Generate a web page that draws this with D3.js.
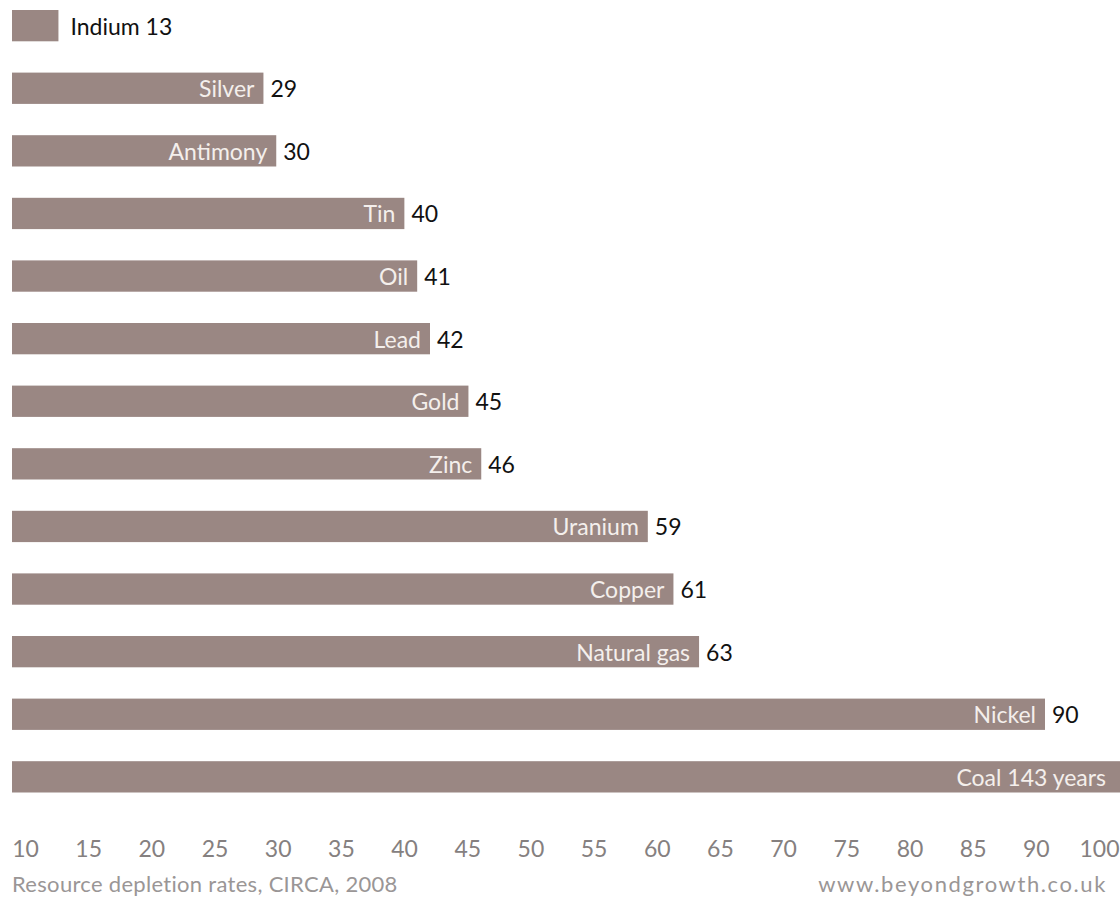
<!DOCTYPE html>
<html>
<head>
<meta charset="utf-8">
<script src="https://cdn.jsdelivr.net/npm/d3@7"></script>
<style>
  html, body { margin: 0; padding: 0; background: #ffffff; }
  svg { display: block; }
  text { font-family: Lato, "Open Sans", "DejaVu Sans", sans-serif; }
</style>
</head>
<body>
<script>
// ---- Data ----
const categories = ["Indium", "Silver", "Antimony", "Tin", "Oil", "Lead", "Gold", "Zinc",
                    "Uranium", "Copper", "Natural gas", "Nickel", "Coal"];
const years = [13, 29, 30, 40, 41, 42, 45, 46, 59, 61, 63, 90, 143];
const tickLabels = ["10", "15", "20", "25", "30", "35", "40", "45", "50", "55",
                    "60", "65", "70", "75", "80", "85", "90", "100"];
const caption = "Resource depletion rates, CIRCA, 2008";
const source = "www.beyondgrowth.co.uk";

// ---- Layout ----
const W = 1120, H = 897;
const barColor = "#9a8783";

const svg = d3.select("body").append("svg")
  .attr("width", W).attr("height", H);

const data = categories.map((c, i) => ({ name: c, value: years[i] }));

const x = d3.scaleLinear().domain([10, 90]).range([20, 1045]);
const x0 = 12; // left edge of bars
const y = d3.scaleBand().domain(categories)
  .range([-5.65, 808.15]).paddingInner(0.5).paddingOuter(0.25);

const g = svg.append("g");

const barEnd = d => Math.min(x(d.value), W);

// bars
g.selectAll("rect.bar").data(data).enter().append("rect")
  .attr("class", "bar")
  .attr("x", x0)
  .attr("y", d => y(d.name))
  .attr("width", d => barEnd(d) - x0)
  .attr("height", y.bandwidth())
  .attr("fill", barColor);

const fs = 23;
data.forEach((d, i) => {
  const cy = y(d.name) + y.bandwidth() / 2;
  const end = barEnd(d);
  if (d.name === "Coal") {
    g.append("text")
      .attr("x", end - 14).attr("y", cy)
      .attr("text-anchor", "end").attr("dominant-baseline", "central")
      .attr("font-size", fs).attr("fill", "#f4efec")
      .text(d.name + " " + d.value + " years");
  } else if (i === 0) {
    g.append("text")
      .attr("x", end + 12).attr("y", cy)
      .attr("text-anchor", "start").attr("dominant-baseline", "central")
      .attr("font-size", fs).attr("fill", "#111")
      .text(d.name + " " + d.value);
  } else {
    g.append("text")
      .attr("x", end - 9).attr("y", cy)
      .attr("text-anchor", "end").attr("dominant-baseline", "central")
      .attr("font-size", fs).attr("fill", "#f4efec")
      .text(d.name);
    g.append("text")
      .attr("x", end + 7).attr("y", cy)
      .attr("text-anchor", "start").attr("dominant-baseline", "central")
      .attr("font-size", fs).attr("fill", "#111")
      .text(d.value);
  }
});

// axis tick labels (evenly spaced as in original)
const tx = d3.scalePoint().domain(tickLabels).range([25, 1099]);
const axis = d3.axisBottom(tx).tickSize(0).tickPadding(0);
const axG = svg.append("g").attr("transform", "translate(0,841)").call(axis);
axG.select(".domain").remove();
axG.selectAll("text")
  .attr("font-size", 23)
  .attr("fill", "#858080")
  .attr("font-family", "Lato, 'Open Sans', sans-serif");

// caption + source
svg.append("text").attr("x", 12).attr("y", 892)
  .attr("font-size", 22).attr("letter-spacing", 0.3)
  .attr("fill", "#9a9696").text(caption);
svg.append("text").attr("x", 1107).attr("y", 892)
  .attr("text-anchor", "end")
  .attr("font-size", 22).attr("letter-spacing", 1.6)
  .attr("fill", "#9a9696").text(source);
</script>
</body>
</html>
